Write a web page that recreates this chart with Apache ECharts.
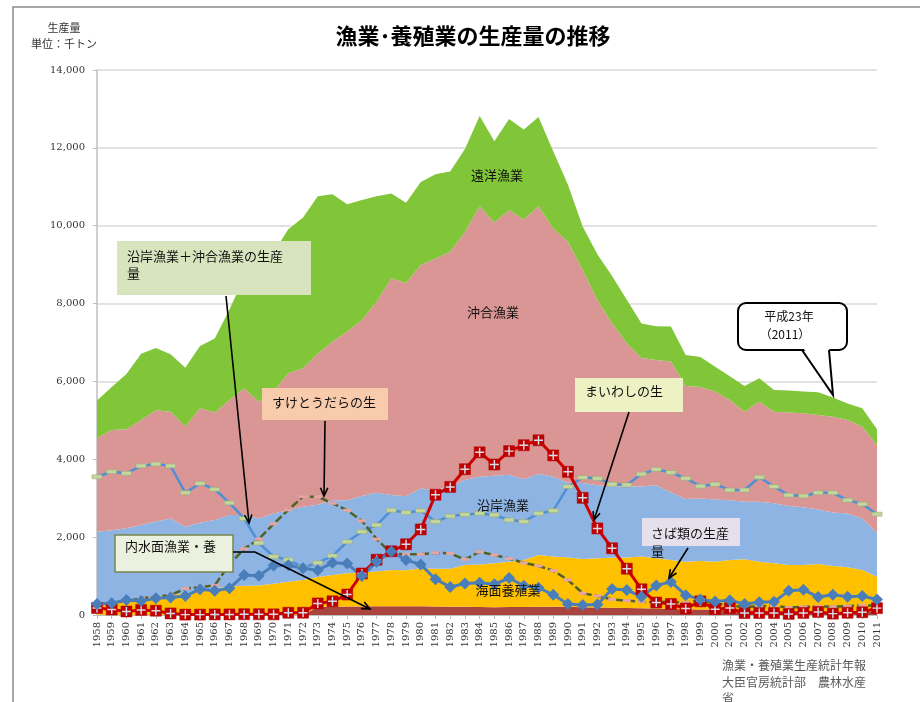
<!DOCTYPE html>
<html><head><meta charset="utf-8">
<script src="https://cdn.jsdelivr.net/npm/echarts@6/dist/echarts.min.js"></script>
<style>html,body{margin:0;padding:0;background:#fff}#c{width:920px;height:702px}</style>
</head><body><div id="c"></div>
<script>
const years = ['1958','1959','1960','1961','1962','1963','1964','1965','1966','1967','1968','1969','1970','1971','1972','1973','1974','1975','1976','1977','1978','1979','1980','1981','1982','1983','1984','1985','1986','1987','1988','1989','1990','1991','1992','1993','1994','1995','1996','1997','1998','1999','2000','2001','2002','2003','2004','2005','2006','2007','2008','2009','2010','2011'];
const yTicks = [0,2000,4000,6000,8000,10000,12000,14000];

// stacked production (thousand tons)
const inland = [0,0,0,0,0,0,0,0,0,0,0,0,0,0,0,210,215,220,220,225,225,225,225,220,215,210,205,200,205,205,210,210,210,200,195,185,180,175,165,155,145,140,135,125,120,115,110,105,100,95,90,85,80,75];
const mariculture = [300,340,385,430,480,515,560,640,685,730,750,760,800,855,900,765,810,850,870,890,930,925,975,970,975,1075,1095,1130,1165,1205,1330,1290,1270,1240,1260,1285,1300,1325,1290,1255,1225,1245,1235,1285,1310,1255,1220,1180,1185,1215,1170,1140,1075,910];
const coastal = [1840,1840,1845,1880,1920,1965,1710,1730,1755,1840,1820,1720,1810,1845,1880,1855,1925,1880,1970,2025,1925,1900,2050,2020,2110,2185,2250,2250,2230,2080,2090,2050,1920,1950,1875,1830,1820,1800,1875,1740,1610,1605,1600,1540,1480,1540,1540,1515,1485,1400,1370,1385,1325,1115];
const offshore = [2400,2570,2540,2700,2860,2740,2570,2940,2760,2950,3250,3000,3130,3510,3560,3890,4070,4330,4520,4910,5570,5480,5740,5950,6030,6370,6950,6500,6800,6670,6870,6380,6190,5470,4760,4190,3680,3300,3220,3360,2900,2870,2770,2570,2310,2570,2350,2400,2410,2430,2460,2400,2360,2270];
const distant = [970,1110,1420,1700,1600,1480,1510,1600,1900,2330,2850,3130,3580,3700,3870,4040,3790,3270,3080,2710,2180,2060,2130,2160,2060,2130,2320,2090,2340,2310,2290,1980,1460,1120,1180,1220,1120,890,870,900,800,770,640,610,660,600,560,570,560,580,500,420,470,400];

// species lines
const sardine = [180,140,90,130,110,40,10,10,15,15,20,20,17,57,58,297,352,526,1066,1420,1637,1817,2198,3089,3290,3745,4179,3866,4210,4362,4488,4099,3678,3010,2224,1714,1189,661,319,284,167,351,150,178,50,52,50,28,53,79,35,57,70,176];
const mackerel = [280,300,385,360,430,450,490,660,625,685,1030,1010,1270,1280,1200,1150,1340,1320,1000,1370,1630,1410,1300,920,720,810,830,790,950,750,700,520,280,260,270,670,640,470,760,850,510,400,350,380,280,330,340,620,650,460,520,470,490,400];
const pollock = [260,320,350,430,470,510,680,720,760,1300,1700,1950,2340,2700,3040,3040,2870,2690,2420,1950,1580,1560,1560,1600,1580,1430,1620,1540,1450,1340,1260,1140,900,560,490,400,370,340,330,340,320,380,300,240,210,220,240,190,210,220,210,230,250,240];
const coastOff = [3550,3680,3640,3830,3880,3830,3140,3380,3230,2880,2480,1850,1500,1420,1220,1340,1520,1880,2140,2310,2690,2630,2680,2400,2540,2580,2610,2570,2440,2400,2610,2680,3300,3530,3510,3360,3340,3620,3740,3660,3510,3310,3360,3210,3210,3540,3300,3080,3060,3140,3140,2950,2850,2590];

const JP = "'Noto Sans CJK JP', sans-serif";
const NUM = "'DejaVu Serif', serif";

function area(name, data, color){
  return {name, type:'line', stack:'total', data, symbol:'none', smooth:false,
    lineStyle:{width:0}, areaStyle:{color, opacity:1}, itemStyle:{color}, silent:true};
}
function txt(x,y,text,opt){
  return {type:'text', x, y, z:100, style:Object.assign({text, fontSize:13, fontFamily:JP, fill:'#111', align:'left', verticalAlign:'middle'}, opt||{})};
}
function arrow(pts, head){
  head = head || 9;
  const n = pts.length, p = pts[n-1], q = pts[n-2];
  const a = Math.atan2(p[1]-q[1], p[0]-q[0]);
  const h1 = [p[0]-head*Math.cos(a-0.42), p[1]-head*Math.sin(a-0.42)];
  const h2 = [p[0]-head*Math.cos(a+0.42), p[1]-head*Math.sin(a+0.42)];
  return [
    {type:'polyline', z:100, shape:{points:pts}, style:{stroke:'#000', lineWidth:1.6, fill:null}},
    {type:'polyline', z:100, shape:{points:[h1,p,h2]}, style:{stroke:'#000', lineWidth:1.6, fill:null}}
  ];
}

const graphics = [].concat(
  [{type:'rect', z:0, shape:{x:13,y:7,width:920,height:720}, style:{fill:null, stroke:'#8c8c8c', lineWidth:1.5}}],
  [txt(64,28,'生産量',{fontSize:11, align:'center', fill:'#333'}), txt(64,44,'単位：千トン',{fontSize:11, align:'center', fill:'#333'})],
  [txt(497,175,'遠洋漁業',{align:'center'}), txt(493,312,'沖合漁業',{align:'center'}), txt(503,505,'沿岸漁業',{align:'center'}), txt(508,590,'海面養殖業',{align:'center'})],
  [{type:'rect', z:99, shape:{x:117,y:241,width:194,height:54}, style:{fill:'#d7e4bd'}},
   txt(127,256,'沿岸漁業＋沖合漁業の生産'), txt(127,273,'量')],
  arrow([[226,296],[249,523]]),
  [{type:'rect', z:99, shape:{x:262,y:388,width:126,height:32}, style:{fill:'#f8cbad'}},
   txt(272,402,'すけとうだらの生')],
  arrow([[325,421],[324,496]]),
  [{type:'rect', z:99, shape:{x:115,y:535,width:118,height:37}, style:{fill:'#ebf1de', stroke:'#77864f', lineWidth:1.5}},
   txt(125,546,'内水面漁業・養')],
  arrow([[233,552],[255,552],[370,609]]),
  [{type:'rect', z:99, shape:{x:575,y:378,width:108,height:34}, style:{fill:'#ecf2c4'}},
   txt(585,391,'まいわしの生')],
  arrow([[629,412],[594,520]]),
  [{type:'rect', z:99, shape:{x:642,y:518,width:98,height:28}, style:{fill:'#e6e0ec'}},
   txt(651,533,'さば類の生産'), txt(651,551,'量')],
  arrow([[688,548],[669,578]]),
  [{type:'rect', z:99, shape:{x:738,y:303,width:109,height:47, r:8}, style:{fill:'#fff', stroke:'#000', lineWidth:2}},
   {type:'polygon', z:100, shape:{points:[[802,346],[829,346],[833,395]]}, style:{fill:'#fff'}},
   {type:'polyline', z:100, shape:{points:[[802,350],[833,395],[829,350]]}, style:{stroke:'#000', lineWidth:2, fill:null}},
   txt(789,316,'平成23年',{fontSize:12, align:'center'}), txt(785,334,'（2011）',{fontSize:12, align:'center'})],
  [txt(722,665,'漁業・養殖業生産統計年報',{fontSize:12, fill:'#595959'}), txt(722,682,'大臣官房統計部　農林水産',{fontSize:12, fill:'#595959'}), txt(722,698,'省',{fontSize:12, fill:'#595959'})]
);

const chart = echarts.init(document.getElementById('c'));
chart.setOption({
  animation:false,
  backgroundColor:'#fff',
  title:{text:'漁業･養殖業の生産量の推移', left:468, textAlign:'center', top:20, textStyle:{fontSize:22, fontWeight:'bold', fontFamily:JP, color:'#000'}},
  grid:{left:97, right:43, top:70, bottom:87},
  xAxis:{type:'category', data:years, boundaryGap:false,
    axisLine:{lineStyle:{color:'#bfbfbf', width:1}},
    axisTick:{show:true, alignWithLabel:true, length:4, lineStyle:{color:'#bfbfbf'}},
    axisLabel:{interval:0, rotate:90, fontSize:10, fontFamily:NUM, color:'#333', margin:7}},
  yAxis:{type:'value', min:yTicks[0], max:yTicks[yTicks.length-1], interval:2000,
    axisLine:{show:true, lineStyle:{color:'#bfbfbf', width:1.5}},
    axisTick:{show:true, length:4, lineStyle:{color:'#bfbfbf'}},
    splitLine:{lineStyle:{color:'#d9d9d9', width:1.5}},
    axisLabel:{fontSize:10, fontFamily:NUM, color:'#333', margin:12, formatter:v=>v.toLocaleString('en-US')}},
  series:[
    area('内水面漁業・養殖業', inland, '#a9443f'),
    area('海面養殖業', mariculture, '#ffc000'),
    area('沿岸漁業', coastal, '#8eb4e3'),
    area('沖合漁業', offshore, '#d99694'),
    area('遠洋漁業', distant, '#80c638'),
    {name:'沿岸漁業＋沖合漁業の生産量', type:'line', data:coastOff, symbol:'rect', symbolSize:[10,4],
      lineStyle:{color:'#4f8fd6', width:2.5}, itemStyle:{color:'#c3d69b', borderColor:'#9aa97a', borderWidth:0.5}},
    {name:'すけとうだらの生産量', type:'line', data:pollock, symbol:'rect', symbolSize:[8,3],
      lineStyle:{color:'#4f6228', width:2.5, type:[8,3]}, itemStyle:{color:'#e6a5a3'}},
    {name:'まいわしの生産量', type:'line', data:sardine, symbol:'rect', symbolSize:11,
      lineStyle:{color:'#d00000', width:3}, itemStyle:{color:'#c00000', borderColor:'#b00000', borderWidth:0.5}},
    {name:'まいわし marker', type:'line', data:sardine, symbol:'path://M4.2,0 L5.8,0 L5.8,4.2 L10,4.2 L10,5.8 L5.8,5.8 L5.8,10 L4.2,10 L4.2,5.8 L0,5.8 L0,4.2 L4.2,4.2 Z', symbolSize:9,
      lineStyle:{width:0, opacity:0}, itemStyle:{color:'#d5dde9'}},
    {name:'さば類の生産量', type:'line', data:mackerel, symbol:'diamond', symbolSize:12,
      lineStyle:{color:'#4a7ebb', width:3}, itemStyle:{color:'#4a7ebb'}}
  ],
  graphic:graphics
});
</script></body></html>
